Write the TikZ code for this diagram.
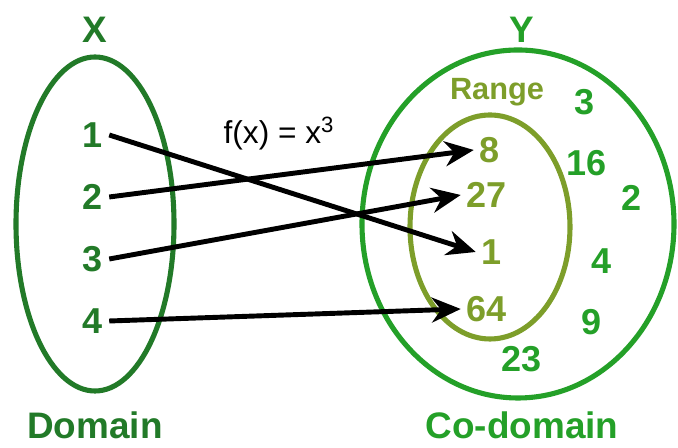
\documentclass[tikz,border=0pt]{standalone}
\usepackage{fontspec}
\setmainfont{Liberation Sans}
\usepackage{tikz}
\usetikzlibrary{arrows.meta}

\definecolor{domgreen}{RGB}{34,122,40}
\definecolor{codgreen}{RGB}{36,160,40}
\definecolor{rangeolive}{RGB}{125,158,42}

\begin{document}
\begin{tikzpicture}[
        num/.style={font=\bfseries\fontsize{20.5}{24}\selectfont},
        title/.style={font=\bfseries\fontsize{21}{25}\selectfont},
        dom/.style={num, text=domgreen},
        cod/.style={num, text=codgreen},
        rng/.style={num, text=rangeolive},
        set/.style={line width=2.9pt},
        map/.style={-{Stealth[length=0.58cm, width=0.5cm]}, line width=2.8pt, black}
    ]
        \useasboundingbox (0,0) rectangle (13.56,8.96);

        % sets
        \draw[set, domgreen] (1.90,4.48) ellipse [x radius=1.58cm, y radius=3.34cm];
        \draw[set, codgreen] (10.36,4.48) ellipse [x radius=3.12cm, y radius=3.48cm];
        \draw[set, rangeolive] (9.80,4.42) ellipse [x radius=1.60cm, y radius=2.24cm];

        \node[title, text=domgreen] (xlab) at (1.90,8.36) {X};
        \node[title, text=codgreen] (ylab) at (10.44,8.36) {Y};
        \node[title, text=domgreen] (domlab) at (1.90,0.46) {Domain};
        \node[title, text=codgreen] (codlab) at (10.44,0.46) {Co-domain};
        \node[font=\bfseries\fontsize{17.5}{21}\selectfont, text=rangeolive] (rnglab) at (9.94,7.12) {Range};
        \node[font=\fontsize{18}{21}\selectfont] (func) at (5.58,6.28) {f(x) = x\textsuperscript{3}};

        % domain
        \node[dom] (d1) at (1.86,6.26) {1};
        \node[dom] (d2) at (1.86,5.02) {2};
        \node[dom] (d3) at (1.86,3.78) {3};
        \node[dom] (d4) at (1.86,2.54) {4};

        % range
        \node[rng] (r8) at (9.80,5.96) {8};
        \node[rng] (r27) at (9.74,5.06) {27};
        \node[rng] (r1) at (9.84,3.92) {1};
        \node[rng] (r64) at (9.74,2.78) {64};

        % rest of co-domain
        \node[cod] (c3) at (11.70,6.92) {3};
        \node[cod] (c16) at (11.74,5.70) {16};
        \node[cod] (c2) at (12.64,5.00) {2};
        \node[cod] (c4) at (12.04,3.74) {4};
        \node[cod] (c9) at (11.84,2.52) {9};
        \node[cod] (c23) at (10.44,1.78) {23};

        \draw[map] (d1.east) -- (r1.west);
        \draw[map] (d2.east) -- (r8.west);
        \draw[map] (d3.east) -- (r27.west);
        \draw[map] (d4.east) -- (r64.west);
    \end{tikzpicture}
\end{document}
